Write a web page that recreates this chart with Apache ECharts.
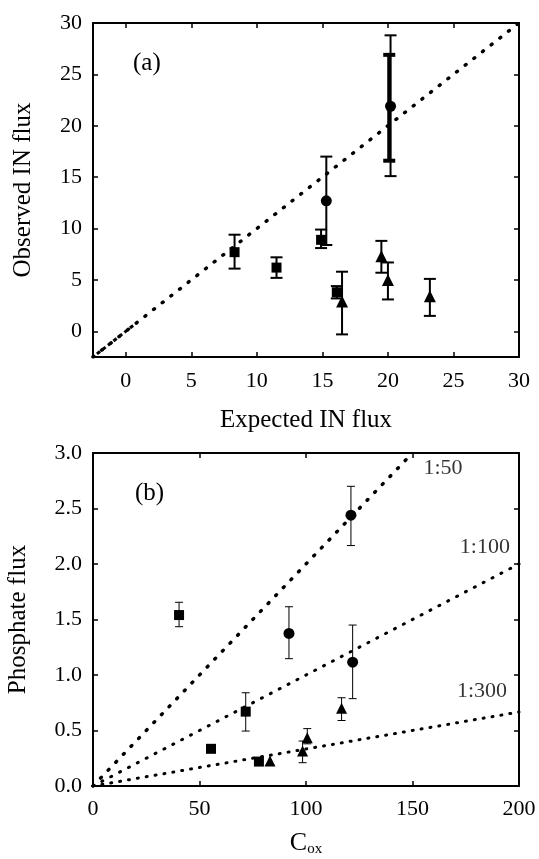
<!DOCTYPE html>
<html>
<head>
<meta charset="utf-8">
<script src="https://cdn.jsdelivr.net/npm/echarts@6/dist/echarts.min.js"></script>
<style>
html,body{margin:0;padding:0;background:#fff;}
#chart{width:539px;height:859px;}
</style>
</head>
<body>
<div id="chart"></div>
<script>
// ---------- Panel (a) data ----------
const ticksA = [0, 5, 10, 15, 20, 25, 30];
const squaresA = [[8.3, 7.7], [11.5, 6.2], [14.9, 8.9], [16.1, 3.8]];
const squaresAErr = [[8.3, 6.1, 9.4], [11.5, 5.2, 7.2], [14.9, 8.1, 9.9], [16.1, 3.2, 4.4]];
const circlesA = [[15.3, 12.7], [20.2, 21.9]];
const circlesAErr = [[15.3, 8.4, 17.0], [20.2, 15.1, 28.8]];
const circlesAErrInner = [[20.1, 16.6, 26.9]];
const trianglesA = [[16.5, 2.9], [19.5, 7.3], [20.0, 5.0], [23.2, 3.4]];
const trianglesAErr = [[16.5, -0.3, 5.8], [19.5, 5.7, 8.8], [20.0, 3.1, 6.7], [23.2, 1.5, 5.1]];
const oneToOneLine = [[-2.5, -2.5], [30, 30]];
const oneToOneStub = [[-2.2, -2.2], [0.8, 0.8]];

// ---------- Panel (b) data ----------
const ticksBx = [0, 50, 100, 150, 200];
const ticksBy = [0, 0.5, 1.0, 1.5, 2.0, 2.5, 3.0];
const squaresB = [[40.4, 1.54], [55.4, 0.335], [71.7, 0.67], [77.9, 0.22]];
const squaresBErr = [[40.4, 1.435, 1.655], [71.7, 0.495, 0.84]];
const circlesB = [[92.0, 1.375], [121.1, 2.44], [121.9, 1.115]];
const circlesBErr = [[92.0, 1.147, 1.615], [121.1, 2.166, 2.70], [121.9, 0.787, 1.45]];
const trianglesB = [[83.1, 0.225], [98.4, 0.315], [100.6, 0.435], [116.7, 0.70]];
const trianglesBErr = [[98.4, 0.21, 0.405], [100.6, 0.38, 0.517], [116.7, 0.59, 0.795]];
const ratioLine50 = [[0, 0], [150, 3]];
const ratioLine100 = [[0, 0], [200, 2]];
const ratioLine300 = [[0, 0], [200, 0.6667]];
const ratioNames = ['1:50', '1:100', '1:300'];
const ratioLabelAnchors = [[164.3, 2.86], [184, 2.15], [182.6, 0.85]];

// ---------- styling helpers ----------
const FONT = '"Liberation Serif", "DejaVu Serif", serif';
const BLACK = '#000';

function errRender(capHalf, lw) {
  return function (params, api) {
    const x = api.value(0), lo = api.value(1), hi = api.value(2);
    const p1 = api.coord([x, lo]);
    const p2 = api.coord([x, hi]);
    const st = { stroke: BLACK, lineWidth: lw };
    return {
      type: 'group',
      children: [
        { type: 'line', shape: { x1: p1[0], y1: p1[1], x2: p2[0], y2: p2[1] }, style: st },
        { type: 'line', shape: { x1: p1[0] - capHalf, y1: p1[1], x2: p1[0] + capHalf, y2: p1[1] }, style: st },
        { type: 'line', shape: { x1: p2[0] - capHalf, y1: p2[1], x2: p2[0] + capHalf, y2: p2[1] }, style: st }
      ]
    };
  };
}

function errSeries(data, xi, yi, capHalf, lw) {
  return {
    type: 'custom', xAxisIndex: xi, yAxisIndex: yi, data: data,
    encode: { x: 0, y: [1, 2] }, renderItem: errRender(capHalf, lw), z: 3, silent: true
  };
}

function scatter(data, xi, yi, symbol, size) {
  return {
    type: 'scatter', xAxisIndex: xi, yAxisIndex: yi, data: data,
    symbol: symbol, symbolSize: size, itemStyle: { color: BLACK, opacity: 1 }, z: 4, silent: true
  };
}

function dotted(data, xi, yi, width, dash, cap) {
  return {
    type: 'line', xAxisIndex: xi, yAxisIndex: yi, data: data, showSymbol: false, symbol: 'none',
    lineStyle: { color: BLACK, width: width, type: dash, cap: cap || 'round' }, z: 2, silent: true
  };
}

const tickStyle = { color: BLACK, width: 1.5 };

function mainAxis(opts) {
  return Object.assign({
    type: 'value',
    axisLine: { show: true, onZero: false, lineStyle: { color: BLACK, width: 2 } },
    axisTick: { show: true, inside: true, length: 5, lineStyle: tickStyle },
    axisLabel: { show: true, color: BLACK, fontFamily: FONT, fontSize: 22, margin: 12 },
    splitLine: { show: false },
    nameLocation: 'middle',
    nameTextStyle: { color: BLACK, fontFamily: FONT, fontSize: 25 }
  }, opts);
}

function mirrorAxis(opts) {
  return Object.assign({
    type: 'value',
    axisLine: { show: true, onZero: false, lineStyle: { color: BLACK, width: 2 } },
    axisTick: { show: true, inside: true, length: 5, lineStyle: tickStyle },
    axisLabel: { show: false },
    splitLine: { show: false }
  }, opts);
}

const chart = echarts.init(document.getElementById('chart'), null, { renderer: 'canvas' });

const option = {
  backgroundColor: '#fff',
  animation: false,
  grid: [
    { left: 93, top: 23, width: 426, height: 334, containLabel: false, outerBoundsMode: 'none' },
    { left: 93, top: 453, width: 426, height: 333, containLabel: false, outerBoundsMode: 'none' }
  ],
  xAxis: [
    mainAxis({
      gridIndex: 0, position: 'bottom', min: -2.5, max: 30,
      axisTick: { show: true, inside: true, length: 5, customValues: ticksA, lineStyle: tickStyle },
      axisLabel: { show: true, customValues: ticksA, color: BLACK, fontFamily: FONT, fontSize: 22, margin: 13 },
      name: 'Expected IN flux', nameGap: 51
    }),
    mirrorAxis({
      gridIndex: 0, position: 'top', min: -2.5, max: 30,
      axisTick: { show: true, inside: true, length: 5, customValues: ticksA, lineStyle: tickStyle }
    }),
    mainAxis({
      gridIndex: 1, position: 'bottom', min: 0, max: 200, interval: 50,
      axisTick: { show: true, inside: true, length: 5, customValues: ticksBx, lineStyle: tickStyle },
      axisLabel: { show: true, customValues: ticksBx, color: BLACK, fontFamily: FONT, fontSize: 22, margin: 12 },
      name: '{c|C}{s|ox}', nameGap: 44,
      nameTextStyle: {
        color: BLACK, fontFamily: FONT, fontSize: 25,
        rich: {
          c: { fontFamily: FONT, fontSize: 26, color: BLACK },
          s: { fontFamily: FONT, fontSize: 15, color: BLACK, verticalAlign: 'bottom', padding: [12, 0, 0, 0] }
        }
      }
    }),
    mirrorAxis({ gridIndex: 1, position: 'top', min: 0, max: 200, interval: 50 })
  ],
  yAxis: [
    mainAxis({
      gridIndex: 0, position: 'left', min: -2.5, max: 30,
      axisTick: { show: true, inside: true, length: 5, customValues: ticksA, lineStyle: tickStyle },
      axisLabel: { show: true, customValues: ticksA, color: BLACK, fontFamily: FONT, fontSize: 22, margin: 11 },
      name: 'Observed IN flux', nameGap: 57
    }),
    mirrorAxis({
      gridIndex: 0, position: 'right', min: -2.5, max: 30,
      axisTick: { show: true, inside: true, length: 5, customValues: ticksA, lineStyle: tickStyle }
    }),
    mainAxis({
      gridIndex: 1, position: 'left', min: 0, max: 3, interval: 0.5,
      axisTick: { show: true, inside: true, length: 5, customValues: ticksBy, lineStyle: tickStyle },
      axisLabel: {
        show: true, customValues: ticksBy, color: BLACK, fontFamily: FONT, fontSize: 22, margin: 11,
        formatter: function (v) { return Number(v).toFixed(1); }
      },
      name: 'Phosphate flux', nameGap: 62
    }),
    mirrorAxis({ gridIndex: 1, position: 'right', min: 0, max: 3, interval: 0.5 })
  ],
  graphic: [
    { type: 'text', left: 133, top: 51, style: { text: '(a)', font: '25px ' + FONT, fill: BLACK } },
    { type: 'text', left: 135, top: 481, style: { text: '(b)', font: '25px ' + FONT, fill: BLACK } }
  ],
  series: [
    // panel (a)
    dotted(oneToOneLine, 0, 0, 3.5, [1, 10]),
    dotted(oneToOneStub, 0, 0, 3, [4, 3], 'butt'),
    errSeries(squaresAErr, 0, 0, 6, 2),
    errSeries(circlesAErr, 0, 0, 6, 2),
    errSeries(circlesAErrInner, 0, 0, 6, 4),
    errSeries(trianglesAErr, 0, 0, 6, 2),
    scatter(squaresA, 0, 0, 'rect', 10),
    scatter(circlesA, 0, 0, 'circle', 11),
    scatter(trianglesA, 0, 0, 'triangle', 12),
    // panel (b)
    dotted(ratioLine50, 2, 2, 3.5, [1, 10]),
    dotted(ratioLine100, 2, 2, 3, [1, 9]),
    dotted(ratioLine300, 2, 2, 3, [1, 8]),
    errSeries(squaresBErr, 2, 2, 4, 1),
    errSeries(circlesBErr, 2, 2, 4, 1),
    errSeries(trianglesBErr, 2, 2, 4, 1),
    scatter(squaresB, 2, 2, 'rect', 10),
    scatter(circlesB, 2, 2, 'circle', 11),
    scatter(trianglesB, 2, 2, 'triangle', 11),
    {
      type: 'scatter', xAxisIndex: 2, yAxisIndex: 2, symbolSize: 0, silent: true,
      data: ratioLabelAnchors.map(function (p, i) { return { value: p, name: ratioNames[i] }; }),
      label: {
        show: true, position: 'inside', formatter: '{b}',
        color: BLACK, fontFamily: FONT, fontSize: 22
      }
    }
  ]
};

chart.setOption(option);
</script>
</body>
</html>
